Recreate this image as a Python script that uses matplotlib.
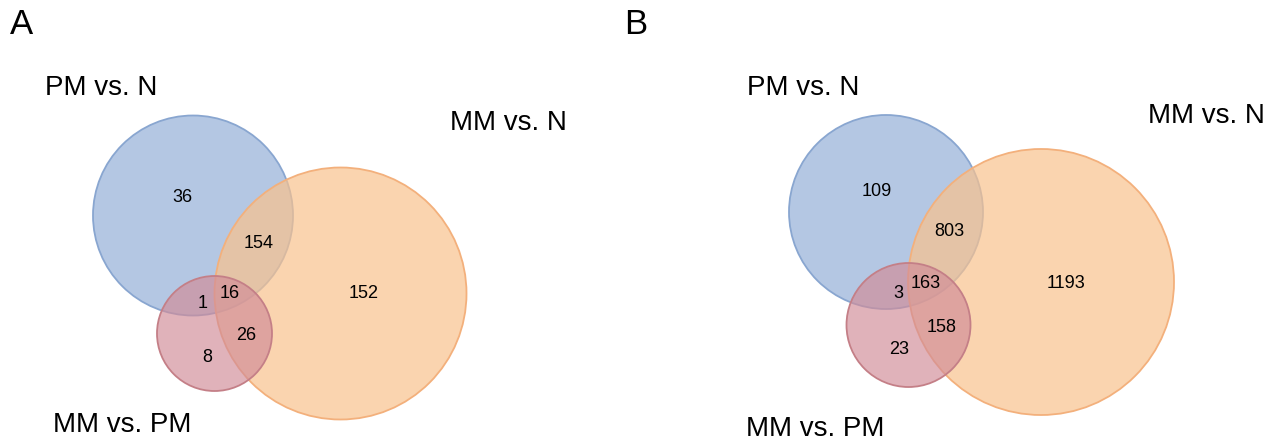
import matplotlib
matplotlib.use("Agg")
import matplotlib.pyplot as plt
from matplotlib.patches import Circle

plt.rcParams['font.family'] = ['Liberation Sans', 'DejaVu Sans']

# set names and region counts for the two panels
set_names = ["PM vs. N", "MM vs. N", "MM vs. PM"]
regions = ["PM only", "PM & MM/N", "MM/N only", "PM & MM/PM", "all three", "MM/N & MM/PM", "MM/PM only"]
counts_A = [36, 154, 152, 1, 16, 26, 8]
counts_B = [109, 803, 1193, 3, 163, 158, 23]

# colours: blue, orange, red sets (drawn in that order)
fills = ["#b4c7e3", "#f9c28d", "#d18c98"]
edges = ["#89a6d0", "#f3b07c", "#c47f87"]
alphas = [1.0, 0.70, 0.67]

# layout in pixels (figure is 1282 x 442)
layout = {
    "A": dict(circles=[(193, 215.5, 100), (340.5, 293.5, 126), (214.5, 333.5, 57.5)],
              names=[(101, 88), (508, 123), (122, 425)],
              nums=[(182, 197), (259, 243), (364, 294), (203, 304), (230, 294), (246, 335), (207, 357)],
              letter=(22, 25)),
    "B": dict(circles=[(886, 212, 97), (1041, 282, 133), (908.5, 325, 62)],
              names=[(803, 88), (1206, 116), (815, 429)],
              nums=[(877, 191), (949, 231), (1066, 283), (898, 294), (926, 283), (942, 327), (899, 349)],
              letter=(636, 25)),
}

fig = plt.figure(figsize=(12.82, 4.42), dpi=100)
ax = fig.add_axes([0, 0, 1, 1])
ax.set_xlim(0, 1282)
ax.set_ylim(442, 0)
ax.set_aspect('equal')
ax.axis('off')

for panel, counts in [("A", counts_A), ("B", counts_B)]:
    lay = layout[panel]
    for (cx, cy, r), fc, ec, a in zip(lay["circles"], fills, edges, alphas):
        ax.add_patch(Circle((cx, cy), r, facecolor=fc, alpha=a, edgecolor='none'))
        ax.add_patch(Circle((cx, cy), r, facecolor='none', edgecolor=ec, lw=1.3))
    for (x, y), name in zip(lay["names"], set_names):
        ax.text(x, y, name, fontsize=20, ha='center', va='center')
    for (x, y), n in zip(lay["nums"], counts):
        ax.text(x, y, str(n), fontsize=13, ha='center', va='center')
    lx, ly = lay["letter"]
    ax.text(lx, ly, panel, fontsize=25, ha='center', va='center')

fig.savefig("out.png", dpi=100)
